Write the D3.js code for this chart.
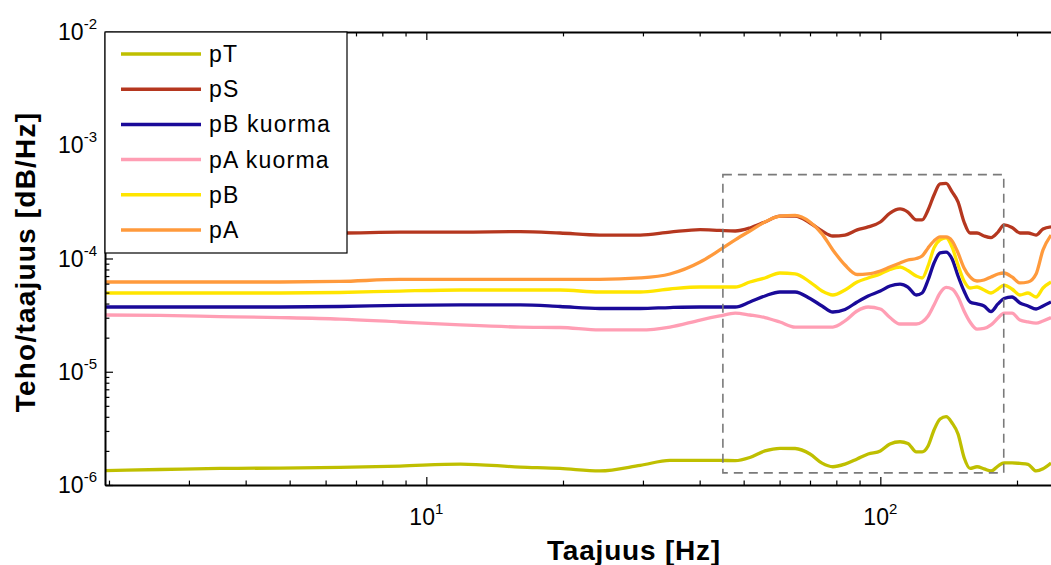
<!DOCTYPE html>
<html>
<head>
<meta charset="utf-8">
<script src="https://cdn.jsdelivr.net/npm/d3@7"></script>
<style>
  body { margin: 0; background: #fff; }
  text { font-family: "Liberation Sans", Arial, sans-serif; fill: #000; }
</style>
</head>
<body>
<div id="chart"></div>
<script>
// frequency grid [Hz]
const freq = [1.96, 2.59, 3.51, 4.76, 6.45, 8.75, 11.9, 16.1, 19.7, 24.1,
  29.6, 34.4, 40.1, 44.3, 47.9, 51.6, 55.7, 60.1, 64.9, 70.0,
  74.4, 78.6, 83.6, 88.9, 94.0, 100, 105, 110.5, 115, 120,
  123.6, 127.4, 131.3, 135.4, 139.6, 143.9, 148.3, 152.9, 157.6, 163.3,
  169.2, 175.3, 181.6, 187.3, 195, 203, 211.5, 220.3, 228.2, 237.7];

// pT in units of 1e-6
const pT = [1.34, 1.37, 1.40, 1.41, 1.43, 1.47, 1.53, 1.44, 1.40, 1.33,
  1.49, 1.65, 1.65, 1.65, 1.64, 1.75, 2.00, 2.11, 2.10, 1.88,
  1.56, 1.45, 1.53, 1.70, 1.88, 2.00, 2.30, 2.41, 2.33, 1.96,
  1.96, 2.21, 3.06, 3.83, 4.01, 3.53, 2.82, 1.75, 1.40, 1.45,
  1.39, 1.33, 1.47, 1.57, 1.57, 1.55, 1.52, 1.33, 1.39, 1.56];

// the rest in units of 1e-4
const pS = [1.68, 1.68, 1.68, 1.68, 1.68, 1.71, 1.71, 1.73, 1.68, 1.61,
  1.61, 1.71, 1.80, 1.77, 1.75, 1.86, 2.10, 2.37, 2.37, 2.06,
  1.75, 1.58, 1.61, 1.79, 1.90, 2.10, 2.52, 2.74, 2.57, 2.19,
  2.19, 2.68, 3.64, 4.55, 4.60, 3.87, 3.16, 2.10, 1.68, 1.68,
  1.58, 1.53, 1.71, 1.98, 1.88, 1.68, 1.68, 1.61, 1.82, 1.90];

const pBkuorma = [0.373, 0.373, 0.373, 0.373, 0.377, 0.385, 0.389, 0.389, 0.377, 0.362,
  0.362, 0.369, 0.373, 0.373, 0.373, 0.413, 0.467, 0.506, 0.506, 0.443,
  0.381, 0.337, 0.355, 0.413, 0.467, 0.516, 0.572, 0.595, 0.560, 0.476,
  0.496, 0.646, 0.913, 1.12, 1.14, 0.990, 0.701, 0.516, 0.413, 0.397,
  0.381, 0.340, 0.397, 0.443, 0.457, 0.405, 0.381, 0.358, 0.381, 0.413];

const pAkuorma = [0.317, 0.314, 0.307, 0.301, 0.292, 0.275, 0.259, 0.248, 0.246, 0.234,
  0.234, 0.248, 0.286, 0.311, 0.330, 0.317, 0.301, 0.275, 0.248, 0.248,
  0.248, 0.248, 0.281, 0.344, 0.373, 0.358, 0.301, 0.264, 0.264, 0.264,
  0.275, 0.311, 0.389, 0.496, 0.555, 0.538, 0.457, 0.344, 0.275, 0.238,
  0.241, 0.259, 0.298, 0.330, 0.330, 0.286, 0.275, 0.269, 0.281, 0.301];

const pB = [0.496, 0.496, 0.496, 0.496, 0.501, 0.516, 0.527, 0.527, 0.527, 0.506,
  0.506, 0.538, 0.560, 0.560, 0.560, 0.620, 0.673, 0.745, 0.730, 0.620,
  0.516, 0.476, 0.527, 0.620, 0.673, 0.730, 0.800, 0.841, 0.783, 0.701,
  0.673, 0.859, 1.24, 1.46, 1.52, 1.26, 0.876, 0.633, 0.549, 0.560,
  0.527, 0.496, 0.538, 0.583, 0.538, 0.476, 0.496, 0.457, 0.549, 0.620];

const pA = [0.620, 0.620, 0.620, 0.620, 0.627, 0.653, 0.653, 0.653, 0.653, 0.653,
  0.673, 0.730, 0.931, 1.19, 1.46, 1.75, 2.10, 2.37, 2.40, 2.10,
  1.65, 1.19, 0.876, 0.722, 0.730, 0.776, 0.841, 0.913, 0.970, 1.00,
  1.05, 1.24, 1.43, 1.55, 1.55, 1.43, 1.12, 0.824, 0.687, 0.633,
  0.646, 0.687, 0.730, 0.745, 0.687, 0.608, 0.620, 0.730, 1.19, 1.61];

// dashed zoom box: frequency range and value range
const boxFreq = [45, 187];
const boxVal = [1.28e-6, 5.5e-4];

const series = [
  {name: "pT", color: "#bfbf00", values: pT.map(v => v * 1e-6)},
  {name: "pS", color: "#b5371f", values: pS.map(v => v * 1e-4)},
  {name: "pB kuorma", color: "#1a0a99", values: pBkuorma.map(v => v * 1e-4)},
  {name: "pA kuorma", color: "#ff9eb4", values: pAkuorma.map(v => v * 1e-4)},
  {name: "pB", color: "#ffe500", values: pB.map(v => v * 1e-4)},
  {name: "pA", color: "#ff9a3c", values: pA.map(v => v * 1e-4)}
];

const W = 1051, H = 565;
const plotL = 105, plotR = 1061, plotT = 32, plotB = 485;

const svg = d3.select("#chart").append("svg")
  .attr("width", W).attr("height", H);

const x = d3.scaleLog().domain([1.96, 250]).range([plotL, plotR]);
const y = d3.scaleLog().domain([1e-6, 1e-2]).range([plotB, plotT]);

const isMajor = v => Math.abs(Math.log10(v) - Math.round(Math.log10(v))) < 1e-6;

svg.append("clipPath").attr("id", "clip")
  .append("rect").attr("x", plotL).attr("y", plotT)
  .attr("width", plotR - plotL).attr("height", plotB - plotT);

// lines
const line = d3.line()
  .x((d, i) => x(freq[i]))
  .y(d => y(d))
  .curve(d3.curveMonotoneX);

svg.append("g").attr("clip-path", "url(#clip)")
  .selectAll("path")
  .data(series)
  .join("path")
    .attr("fill", "none")
    .attr("stroke", d => d.color)
    .attr("stroke-width", 3.3)
    .attr("stroke-linejoin", "round")
    .attr("d", d => line(d.values));

// dashed box
svg.append("rect")
  .attr("x", x(boxFreq[0]))
  .attr("y", y(boxVal[1]))
  .attr("width", x(boxFreq[1]) - x(boxFreq[0]))
  .attr("height", y(boxVal[0]) - y(boxVal[1]))
  .attr("fill", "none")
  .attr("stroke", "#7a7a7a")
  .attr("stroke-width", 1.6)
  .attr("stroke-dasharray", "9,6");

// axes (ticks pointing inward, MATLAB style)
function styleAxis(g, dir) {
  g.select(".domain").attr("stroke", "#000").attr("stroke-width", 2);
  g.selectAll(".tick line").attr("stroke", "#000").attr("stroke-width", 1.2)
    .each(function(d) {
      if (!isMajor(d)) d3.select(this).attr(dir, d3.select(this).attr(dir) * 0.55);
    });
  g.selectAll(".tick text").remove();
}

svg.append("g").attr("transform", `translate(0,${plotB})`)
  .call(d3.axisBottom(x).tickValues(x.ticks()).tickSize(-8).tickSizeOuter(0))
  .call(g => styleAxis(g, "y2"));

svg.append("g").attr("transform", `translate(0,${plotT})`)
  .call(d3.axisTop(x).tickValues(x.ticks()).tickSize(-8).tickSizeOuter(0))
  .call(g => styleAxis(g, "y2"));

svg.append("g").attr("transform", `translate(${plotL},0)`)
  .call(d3.axisLeft(y).tickValues(y.ticks()).tickSize(-8).tickSizeOuter(0))
  .call(g => styleAxis(g, "x2"));

// tick labels with superscripts
const xMajors = x.ticks().filter(isMajor);
svg.append("g").selectAll("text")
  .data(xMajors)
  .join("text")
    .attr("x", d => x(d))
    .attr("y", 525)
    .attr("text-anchor", "middle")
    .attr("font-size", 23)
    .each(function(d) {
      const t = d3.select(this);
      t.append("tspan").text("10");
      t.append("tspan").attr("dy", -11).attr("font-size", 15).text(Math.round(Math.log10(d)));
    });

const yMajors = y.ticks().filter(isMajor);
svg.append("g").selectAll("text")
  .data(yMajors)
  .join("text")
    .attr("x", 97)
    .attr("y", d => y(d) + 8)
    .attr("text-anchor", "end")
    .attr("font-size", 23)
    .each(function(d) {
      const t = d3.select(this);
      t.append("tspan").text("10");
      t.append("tspan").attr("dy", -11).attr("font-size", 15).text(Math.round(Math.log10(d)));
    });

// axis titles
svg.append("text")
  .attr("x", 634).attr("y", 560)
  .attr("text-anchor", "middle")
  .attr("font-size", 28).attr("font-weight", "bold")
  .attr("letter-spacing", 0.8)
  .text("Taajuus [Hz]");

svg.append("text")
  .attr("transform", "translate(35,262) rotate(-90)")
  .attr("text-anchor", "middle")
  .attr("font-size", 28).attr("font-weight", "bold")
  .attr("letter-spacing", 1.2)
  .text("Teho/taajuus [dB/Hz]");

// legend
const legend = svg.append("g");
legend.append("rect")
  .attr("x", plotL).attr("y", plotT)
  .attr("width", 242).attr("height", 221)
  .attr("fill", "#fff").attr("stroke", "#000").attr("stroke-width", 1.2);

const item = legend.selectAll("g.item")
  .data(series)
  .join("g")
    .attr("class", "item")
    .attr("transform", (d, i) => `translate(0,${54 + i * 35.2})`);

item.append("line")
  .attr("x1", 121).attr("x2", 201)
  .attr("stroke", d => d.color)
  .attr("stroke-width", 3.5);

item.append("text")
  .attr("x", 209).attr("y", 8)
  .attr("font-size", 23)
  .attr("letter-spacing", 1.2)
  .text(d => d.name);
</script>
</body>
</html>
